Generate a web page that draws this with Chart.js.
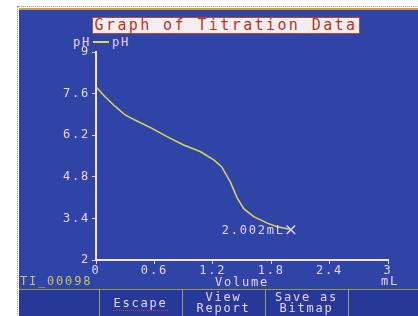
<!DOCTYPE html>
<html>
<head>
<meta charset="utf-8">
<script src="https://cdn.jsdelivr.net/npm/chart.js@4.4.1/dist/chart.umd.min.js"></script>
<style>
  body { margin: 0; width: 418px; height: 316px; background: #fff; overflow: hidden; position: relative;
         font-family: "DejaVu Sans Mono", monospace; }
  .abs { position: absolute; white-space: pre; }
  #dotsTop { left: 18px; top: 6px; width: 400px; height: 0; border-top: 1px dotted #999; }
  #dotsLeft { left: 17px; top: 6px; width: 0; height: 310px; border-left: 1px dotted #999; }
  #screen { left: 19px; top: 8px; width: 399px; height: 281px; background: #2f44a6;
            border-top: 2px solid #c8a050; box-sizing: border-box; }
  #bar { left: 19px; top: 289px; width: 399px; height: 27px; background: #283898;
         border-top: 1px solid #8c9a60; box-sizing: border-box; }
  .sep { top: 289px; width: 1px; height: 27px; background: #9aa060; }
  #title { left: 92px; top: 17px; width: 268px; height: 17px; background: #f3efef; border: 1px solid #b04a3a;
           box-sizing: border-box; color: #c0321e; font-size: 15px; line-height: 15px; letter-spacing: 2.4px;
           text-align: center; }
  .txt { color: #e6d4ee; font-size: 12px; line-height: 12px; letter-spacing: 1.8px; }
  .btn { color: #e6d4ee; font-size: 12px; line-height: 12px; letter-spacing: 1.8px; text-align: center; width: 83px; }
  #wrap { left: 19px; top: 9px; width: 399px; height: 279px; }
</style>
</head>
<body>
<div class="abs" id="dotsTop"></div>
<div class="abs" id="dotsLeft"></div>
<div class="abs" id="screen"></div>
<div class="abs" id="bar"></div>
<div class="abs sep" style="left:99px"></div>
<div class="abs sep" style="left:182px"></div>
<div class="abs sep" style="left:265px"></div>
<div class="abs sep" style="left:348px"></div>
<div class="abs" id="title">Graph of Titration Data</div>
<div class="abs txt" style="left:73px;top:36px">pH</div>
<div class="abs" style="left:93px;top:41px;width:16px;height:2px;background:#e0d84a"></div>
<div class="abs txt" style="left:112px;top:36px">pH</div>
<div class="abs" id="wrap"><canvas id="c" width="399" height="279"></canvas></div>
<div class="abs txt" style="left:20px;top:275px;color:#c8c45a">TI_00098</div>
<div class="abs txt" style="left:381px;top:275px">mL</div>
<div class="abs btn" style="left:99px;top:297px;"><span style="border-bottom:1px dotted #d04040">Escape</span></div>
<div class="abs btn" style="left:182px;top:292px;line-height:11px">View
Report</div>
<div class="abs btn" style="left:265px;top:292px;line-height:11px">Save as
Bitmap</div>
<script>
// titration readings off the instrument screen (mL, pH)
var volume = [0.0, 0.09, 0.20, 0.30, 0.40, 0.57, 0.73, 0.90, 1.07, 1.21, 1.29, 1.38, 1.45, 1.52, 1.62, 1.76, 1.86, 1.98, 2.002];
var ph = [7.83, 7.50, 7.16, 6.88, 6.71, 6.44, 6.15, 5.87, 5.65, 5.37, 5.14, 4.63, 4.09, 3.72, 3.46, 3.24, 3.12, 3.04, 3.02];

var xTicks = [0, 0.6, 1.2, 1.8, 2.4, 3];
var xTickLabels = ['0', '0.6', '1.2', '1.8', '2.4', '3'];
var yTicks = [2, 3.4, 4.8, 6.2, 7.6, 9];
var yTickLabels = ['2', '3.4', '4.8', '6.2', '7.6', '9'];
var cursorLabel = '2.002mL';

var ink = '#e6d4ee';
var font = { family: 'DejaVu Sans Mono', size: 12 };

var points = volume.map(function (v, i) { return { x: v, y: ph[i] }; });
var last = points[points.length - 1];

var spacing = {
  id: 'spacing',
  beforeDraw: function (chart) { chart.ctx.letterSpacing = '1.8px'; }
};

var cursorText = {
  id: 'cursorText',
  afterDatasetsDraw: function (chart) {
    var ctx = chart.ctx;
    var px = chart.scales.x.getPixelForValue(last.x);
    var py = chart.scales.y.getPixelForValue(last.y);
    ctx.save();
    ctx.font = '12px "DejaVu Sans Mono"';
    ctx.fillStyle = ink;
    ctx.textAlign = 'right';
    ctx.textBaseline = 'middle';
    ctx.fillText(cursorLabel, px - 6, py + 1);
    ctx.restore();
  }
};

new Chart(document.getElementById('c'), {
  type: 'scatter',
  data: {
    datasets: [{
      data: points,
      showLine: true,
      borderColor: '#d8d850',
      borderWidth: 1.5,
      pointRadius: 0,
      tension: 0
    }, {
      data: [last],
      pointStyle: 'crossRot',
      pointRadius: 6,
      borderColor: ink,
      borderWidth: 1.5
    }]
  },
  options: {
    responsive: false,
    animation: false,
    devicePixelRatio: 1,
    layout: { padding: { top: 43, right: 30, left: 0, bottom: 0 } },
    plugins: { legend: { display: false }, tooltip: { enabled: false } },
    scales: {
      x: {
        type: 'linear', min: 0, max: 3,
        afterBuildTicks: function (s) { s.ticks = xTicks.map(function (v) { return { value: v }; }); },
        afterFit: function (s) { s.height = 28; },
        ticks: { color: ink, font: font, padding: 0, maxRotation: 0,
                 callback: function (v, i) { return xTickLabels[i]; } },
        grid: { drawOnChartArea: false, color: ink, tickLength: 4, lineWidth: 1 },
        border: { color: '#f2e6f8', width: 2 },
        title: { display: true, text: 'Volume', color: ink, font: font, padding: { top: 0, bottom: -2 } }
      },
      y: {
        min: 2, max: 9,
        afterBuildTicks: function (s) { s.ticks = yTicks.map(function (v) { return { value: v }; }); },
        afterFit: function (s) { s.width = 77; },
        ticks: { color: ink, font: font, padding: 2,
                 callback: function (v, i) { return yTickLabels[i]; } },
        grid: { drawOnChartArea: false, color: ink, tickLength: 4, lineWidth: 1 },
        border: { color: '#f2e6f8', width: 2 }
      }
    }
  },
  plugins: [spacing, cursorText]
});
</script>
</body>
</html>
